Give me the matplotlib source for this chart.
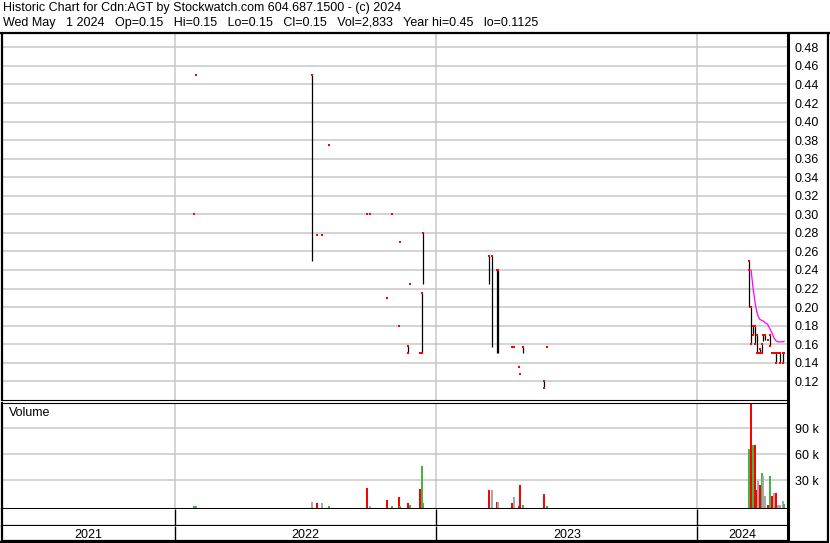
import numpy as np
import matplotlib
matplotlib.use('Agg')
import matplotlib.pyplot as plt
from matplotlib.lines import Line2D

W, H = 830, 543

# daily trades: date, open, high, low, close, volume (thousands), volume colour
dates = ['2022-01-28', '2022-01-31', '2022-07-12', '2022-07-18', '2022-07-26',
         '2022-08-04', '2022-09-27', '2022-09-30', '2022-10-24', '2022-10-31',
         '2022-11-10', '2022-11-11', '2022-11-23', '2022-11-25', '2022-12-10',
         '2022-12-12', '2022-12-14',
         '2023-03-16', '2023-03-20', '2023-03-27', '2023-03-28', '2023-04-17',
         '2023-04-20', '2023-04-27', '2023-04-28', '2023-05-03', '2023-05-31',
         '2023-06-05',
         '2024-03-13', '2024-03-16', '2024-03-19', '2024-03-22', '2024-03-24',
         '2024-03-26', '2024-03-28', '2024-03-31', '2024-04-02', '2024-04-05',
         '2024-04-08', '2024-04-11', '2024-04-14', '2024-04-17', '2024-04-20',
         '2024-04-23', '2024-04-26', '2024-04-29', '2024-05-01']
opens = [0.30, 0.45, 0.45, 0.2775, 0.2775, 0.375, 0.30, 0.30, 0.21, 0.30,
         0.18, 0.27, 0.158, 0.225, 0.15, 0.15, 0.28,
         0.255, 0.255, 0.24, 0.24, 0.157, 0.157, 0.135, 0.1275, 0.157, 0.12, 0.157,
         0.25, 0.20, 0.18, 0.18, 0.17, 0.15, 0.155, 0.15, 0.17, 0.17,
         0.165, 0.158, 0.15, 0.15, 0.15, 0.15, 0.15, 0.15, 0.15]
highs = [0.30, 0.45, 0.45, 0.2775, 0.2775, 0.375, 0.30, 0.30, 0.21, 0.30,
         0.18, 0.27, 0.158, 0.225, 0.15, 0.215, 0.28,
         0.255, 0.255, 0.24, 0.24, 0.157, 0.157, 0.135, 0.1275, 0.157, 0.12, 0.157,
         0.25, 0.20, 0.18, 0.18, 0.17, 0.15, 0.155, 0.16, 0.17, 0.17,
         0.165, 0.17, 0.15, 0.15, 0.15, 0.15, 0.15, 0.15, 0.15]
lows = [0.30, 0.45, 0.25, 0.2775, 0.2775, 0.375, 0.30, 0.30, 0.21, 0.30,
        0.18, 0.27, 0.15, 0.225, 0.15, 0.15, 0.225,
        0.225, 0.157, 0.15, 0.15, 0.157, 0.157, 0.135, 0.1275, 0.15, 0.1125, 0.157,
        0.20, 0.16, 0.17, 0.16, 0.15, 0.15, 0.15, 0.15, 0.163, 0.165,
        0.165, 0.158, 0.15, 0.15, 0.14, 0.15, 0.14, 0.14, 0.15]
closes = [0.30, 0.45, 0.45, 0.2775, 0.2775, 0.375, 0.30, 0.30, 0.21, 0.30,
          0.18, 0.27, 0.15, 0.225, 0.15, 0.215, 0.28,
          0.255, 0.255, 0.24, 0.24, 0.157, 0.157, 0.135, 0.1275, 0.157, 0.1125, 0.157,
          0.24, 0.16, 0.17, 0.16, 0.15, 0.15, 0.15, 0.16, 0.17, 0.17,
          0.165, 0.17, 0.15, 0.15, 0.14, 0.15, 0.14, 0.14, 0.15]
volumes = [0.4, 0.4, 5.3, 3.8, 3.8, 0.4, 21.0, 0.4, 7.3, 0.4,
           10.7, 0.4, 3.8, 1.0, 20.0, 46.5, 3.8,
           18.8, 18.8, 5.0, 5.0, 3.8, 10.7, 0.5, 24.6, 1.5, 14.2, 0.4,
           66.0, 120.0, 70.7, 70.7, 18.8, 29.0, 24.6, 38.4, 35.0, 11.9,
           1.0, 35.0, 11.9, 15.3, 15.3, 1.0, 1.0, 6.0, 2.8]
vol_colors = ['g', 'g', 'n', 'r', 'n', 'g', 'r', 'n', 'r', 'g',
              'r', 'g', 'r', 'g', 'r', 'g', 'g',
              'r', 'n', 'r', 'n', 'r', 'n', 'r', 'r', 'g', 'r', 'g',
              'g', 'r', 'g', 'r', 'r', 'n', 'r', 'g', 'n', 'n',
              'r', 'g', 'r', 'n', 'r', 'n', 'n', 'n', 'g']

# moving average (magenta)
ma_dates = ['2024-03-16', '2024-03-19', '2024-03-22', '2024-03-24', '2024-03-26',
            '2024-03-28', '2024-03-31', '2024-04-02', '2024-04-05', '2024-04-08',
            '2024-04-11', '2024-04-14', '2024-04-17', '2024-04-20', '2024-04-23',
            '2024-04-26', '2024-04-29', '2024-05-01']
ma_values = [0.24, 0.219, 0.203, 0.195, 0.19, 0.187, 0.1855, 0.185, 0.183, 0.1815,
             0.177, 0.1725, 0.167, 0.1635, 0.1625, 0.1625, 0.1625, 0.163]

years = ['2021', '2022', '2023', '2024']
year_starts = ['2022-01-01', '2023-01-01', '2024-01-01']
price_ticks = [0.12, 0.14, 0.16, 0.18, 0.20, 0.22, 0.24, 0.26, 0.28, 0.30,
               0.32, 0.34, 0.36, 0.38, 0.40, 0.42, 0.44, 0.46, 0.48]
vol_ticks = [30, 60, 90]

header1 = 'Historic Chart for Cdn:AGT by Stockwatch.com 604.687.1500 - (c) 2024'
header2 = ('Wed May   1 2024   Op=0.15   Hi=0.15   Lo=0.15   Cl=0.15   Vol=2,833   '
           'Year hi=0.45   lo=0.1125')


def to_days(ds):
    return (np.array(ds, dtype='datetime64[D]') - np.datetime64('2022-01-01')).astype(int)


def box(l, t, r, b):
    return [l / W, 1 - b / H, (r - l) / W, (b - t) / H]


def fig_line(fig, x0, y0, x1, y1, lw):
    fig.add_artist(Line2D([x0 / W, x1 / W], [1 - y0 / H, 1 - y1 / H], color='black',
                          lw=lw, transform=fig.transFigure, solid_capstyle='butt'))


plt.rcParams['font.family'] = ['Liberation Sans', 'DejaVu Sans']
plt.rcParams['font.size'] = 9

x = to_days(dates)
xma = to_days(ma_dates)
xyears = to_days(year_starts)
XLIM = (-242.3, 856.6)
GRID = '#c8c8c8'
VCOL = {'g': '#44b444', 'r': '#ff0000', 'n': '#a8a8a8'}

fig = plt.figure(figsize=(W / 100, H / 100), dpi=100)

# price panel
ax = fig.add_axes(box(1.5, 34, 788, 400))
ax.set_xlim(*XLIM)
ax.set_ylim(0.0998, 0.4944)
ax.set_xticks(xyears)
ax.set_yticks(price_ticks)
ax.set_yticklabels(['%.2f' % t for t in price_ticks])
ax.yaxis.tick_right()
ax.tick_params(axis='y', length=0, pad=4.5, labelsize=9)
ax.tick_params(axis='x', length=0, labelbottom=False)
ax.grid(True, color=GRID, lw=1.1)
ax.set_axisbelow(True)
for i in range(len(x)):
    if highs[i] > lows[i]:
        ax.vlines(x[i], lows[i], highs[i], color='black', lw=0.9)
ax.plot(x, opens, ls='none', marker='s', ms=1.8, mew=0, color='red')
ax.plot(x, closes, ls='none', marker='s', ms=1.8, mew=0, color='red')
ax.plot(xma, ma_values, color='#ff00ff', lw=0.9)
ax.text(8, 43, 'Cdn:AGT', transform=None, fontsize=9, va='center')
ax.spines['top'].set_visible(False)
ax.spines['left'].set_linewidth(1.6)
ax.spines['right'].set_linewidth(2.2)
ax.spines['bottom'].set_linewidth(0.8)

# volume panel
VFLOOR = -3.1
vax = fig.add_axes(box(1.5, 402.5, 788, 509))
vax.set_xlim(*XLIM)
vax.set_ylim(VFLOOR, 119.8)
vax.set_xticks(xyears)
vax.set_yticks(vol_ticks)
vax.set_yticklabels(['%d k' % t for t in vol_ticks])
vax.yaxis.tick_right()
vax.tick_params(axis='y', length=0, pad=5, labelsize=9)
vax.tick_params(axis='x', length=0, labelbottom=False)
vax.grid(True, color=GRID, lw=1.1)
vax.set_axisbelow(True)
vax.bar(x, np.array(volumes) - VFLOOR, bottom=VFLOOR, width=2.8,
        color=[VCOL[c] for c in vol_colors], lw=0, antialiased=False)
vax.text(0.01, 0.9, 'Volume', transform=vax.transAxes, fontsize=9, va='center')
vax.spines['left'].set_linewidth(1.6)
vax.spines['right'].set_linewidth(2.2)
vax.spines['top'].set_linewidth(0.8)
vax.spines['bottom'].set_linewidth(2.2)

# date strips
edges = [XLIM[0]] + list(xyears) + [XLIM[1]]
for top, bot, labels in [(509, 526, False), (526, 541, True)]:
    sax = fig.add_axes(box(1.5, top, 788, bot))
    sax.set_xlim(*XLIM)
    sax.set_ylim(0, 1)
    sax.set_xticks([])
    sax.set_yticks([])
    sax.vlines(xyears, 0, 1, color='black', lw=1.0)
    for s in sax.spines.values():
        s.set_linewidth(1.6)
    sax.spines['right'].set_linewidth(2.2)
    sax.spines['top'].set_visible(False)
    if labels:
        for k, name in enumerate(years):
            sax.text((edges[k] + edges[k + 1]) / 2, 0.4, name, ha='center',
                     va='center', fontsize=9)

# header and outer frame
fig.text(3 / W, 1 - 2 / H, header1, va='top', fontsize=9)
fig.text(3 / W, 1 - 17 / H, header2, va='top', fontsize=9)
fig_line(fig, 0, 33, W, 33, 1.6)
fig_line(fig, 828, 33, 828, 542, 1.6)
fig_line(fig, 0, 541.5, 829, 541.5, 1.6)

fig.savefig('out.png', dpi=100)
